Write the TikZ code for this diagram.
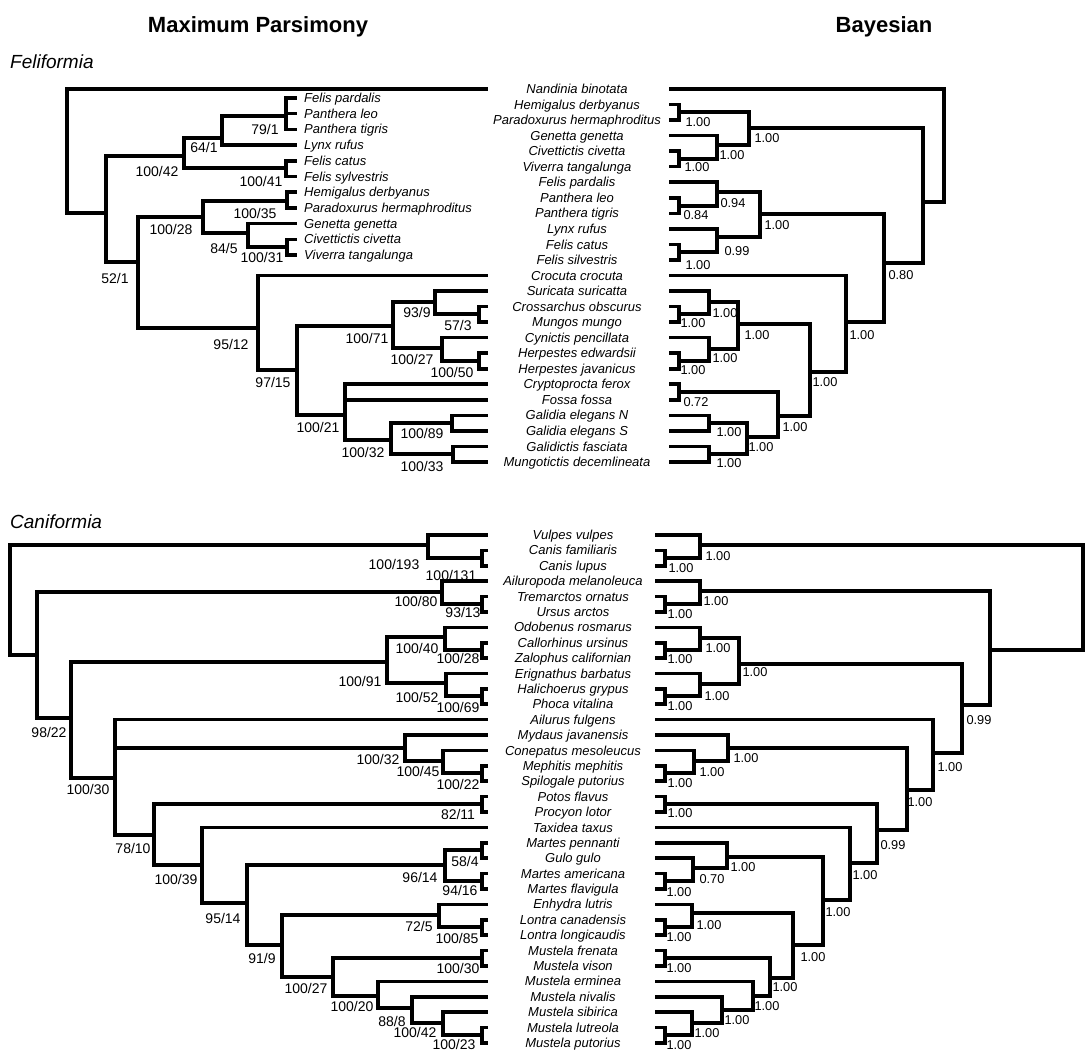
\documentclass[tikz,border=0pt]{standalone}
\usepackage{fontspec}
\setmainfont{Liberation Sans}
\tikzset{
  br/.style={line width=3.6pt, line join=miter},
  taxon/.style={font=\fontsize{13}{15}\selectfont\itshape, anchor=base, inner sep=0pt},
  taxl/.style={taxon, anchor=base west},
  mplabel/.style={font=\fontsize{14}{16}\selectfont, inner sep=0pt},
  bylabel/.style={font=\fontsize{12.8}{15}\selectfont, inner sep=0pt},
  title/.style={font=\fontsize{22}{26}\selectfont\bfseries, anchor=base, inner sep=0pt},
  group/.style={font=\fontsize{19}{22}\selectfont\itshape, anchor=base west, inner sep=0pt}
}
\newcommand\mplab[3]{\node[mplabel] (l#1) at (#2) {#3};}
\newcommand\bylab[3]{\node[bylabel] (l#1) at (#2) {#3};}
\begin{document}
\begin{tikzpicture}[x=1pt,y=-1pt]
\useasboundingbox (0,0) rectangle (1086,1051);
% titles
\node[title] (tMP) at (258,33) {Maximum Parsimony};
\node[title] (tBY) at (884,33) {Bayesian};
\node[group] (gFel) at (10,69) {Feliformia};
\node[group] (gCan) at (10,528) {Caniformia};

% ---------------- Feliformia taxa ----------------
\foreach \nm [count=\k from 0] in {Nandinia binotata, Hemigalus derbyanus, Paradoxurus hermaphroditus, Genetta genetta, Civettictis civetta, Viverra tangalunga, Felis pardalis, Panthera leo, Panthera tigris, Lynx rufus, Felis catus, Felis silvestris, Crocuta crocuta, Suricata suricatta, Crossarchus obscurus, Mungos mungo, Cynictis pencillata, Herpestes edwardsii, Herpestes javanicus, Cryptoprocta ferox, Fossa fossa, Galidia elegans N, Galidia elegans S, Galidictis fasciata, Mungotictis decemlineata}
{
  \node[taxon] (tf\k) at (577,{89+15.54*\k+4.6}) {\nm};
  \coordinate (mf\k) at (488,{89+15.54*\k});
  \coordinate (bf\k) at (669,{89+15.54*\k});
}
\foreach \nm [count=\k from 0] in {Felis pardalis, Panthera leo, Panthera tigris, Lynx rufus, Felis catus, Felis sylvestris, Hemigalus derbyanus, Paradoxurus hermaphroditus, Genetta genetta, Civettictis civetta, Viverra tangalunga}
{
  \node[taxl] (tl\k) at (304,{98+15.7*\k+4.6}) {\nm};
  \coordinate (ml\k) at (297,{98+15.7*\k});
}

% Feliformia MP nodes
\coordinate (fR) at (67,150);
\coordinate (fA) at (106,213);
\coordinate (fB) at (184,156);
\coordinate (fC) at (138,262);
\coordinate (fD) at (222,138);
\coordinate (fE) at (286,168);
\coordinate (fF) at (286,116);
\coordinate (fG) at (203,217);
\coordinate (fH) at (258,328);
\coordinate (fI) at (287,201);
\coordinate (fJ) at (248,233);
\coordinate (fK) at (287,247);
\coordinate (fL) at (297,370);
\coordinate (fM) at (393,326);
\coordinate (fN) at (345,415);
\coordinate (fO) at (435,302);
\coordinate (fP) at (442,348);
\coordinate (fQ) at (479,314);
\coordinate (fS) at (479,361);
\coordinate (fT) at (391,440);
\coordinate (fU) at (452,423);
\coordinate (fV) at (453,454);
\foreach \p/\c in {fR/mf0, fR/fA, fA/fB, fA/fC, fB/fD, fB/fE, fD/fF, fD/ml3, fF/ml0, fF/ml1, fF/ml2, fE/ml4, fE/ml5, fC/fG, fC/fH, fG/fI, fG/fJ, fI/ml6, fI/ml7, fJ/ml8, fJ/fK, fK/ml9, fK/ml10, fH/mf12, fH/fL, fL/fM, fL/fN, fM/fO, fM/fP, fO/mf13, fO/fQ, fQ/mf14, fQ/mf15, fP/mf16, fP/fS, fS/mf17, fS/mf18, fN/mf19, fN/mf20, fN/fT, fT/fU, fT/fV, fU/mf21, fU/mf22, fV/mf23, fV/mf24}
  \draw[br] (\p) |- (\c);
\mplab{fF}{265,129}{79/1}
\mplab{fD}{204,147}{64/1}
\mplab{fB}{157,171}{100/42}
\mplab{fE}{261,181}{100/41}
\mplab{fI}{255,213}{100/35}
\mplab{fG}{171,229}{100/28}
\mplab{fJ}{224,248}{84/5}
\mplab{fK}{262,257}{100/31}
\mplab{fC}{115,278}{52/1}
\mplab{fH}{231,344}{95/12}
\mplab{fL}{273,382}{97/15}
\mplab{fO}{417,312}{93/9}
\mplab{fQ}{458,325}{57/3}
\mplab{fM}{367,338}{100/71}
\mplab{fP}{412,359}{100/27}
\mplab{fS}{452,372}{100/50}
\mplab{fN}{318,427}{100/21}
\mplab{fU}{422,433}{100/89}
\mplab{fT}{363,452}{100/32}
\mplab{fV}{422,466}{100/33}

% Feliformia Bayesian nodes
\coordinate (gR) at (944,150);
\coordinate (gA) at (923,202);
\coordinate (gB) at (749,128);
\coordinate (gD) at (679,112);
\coordinate (gE) at (717,145);
\coordinate (gF) at (679,159);
\coordinate (gC) at (884,263);
\coordinate (gG) at (760,214);
\coordinate (gI) at (717,192);
\coordinate (gK) at (679,206);
\coordinate (gJ) at (717,237);
\coordinate (gL) at (679,252);
\coordinate (gH) at (846,322);
\coordinate (gM) at (810,372);
\coordinate (gN) at (738,324);
\coordinate (gP) at (709,302);
\coordinate (gS) at (679,314);
\coordinate (gQ) at (709,349);
\coordinate (gT) at (679,361);
\coordinate (gO) at (778,416);
\coordinate (gU) at (679,392);
\coordinate (gV) at (747,437);
\coordinate (gW) at (709,423);
\coordinate (gX) at (709,454);
\foreach \p/\c in {gR/bf0, gR/gA, gA/gB, gA/gC, gB/gD, gB/gE, gD/bf1, gD/bf2, gE/bf3, gE/gF, gF/bf4, gF/bf5, gC/gG, gC/gH, gG/gI, gG/gJ, gI/bf6, gI/gK, gK/bf7, gK/bf8, gJ/bf9, gJ/gL, gL/bf10, gL/bf11, gH/bf12, gH/gM, gM/gN, gM/gO, gN/gP, gN/gQ, gP/bf13, gP/gS, gS/bf14, gS/bf15, gQ/bf16, gQ/gT, gT/bf17, gT/bf18, gO/gU, gO/gV, gU/bf19, gU/bf20, gV/gW, gV/gX, gW/bf21, gW/bf22, gX/bf23, gX/bf24}
  \draw[br] (\p) |- (\c);
\bylab{gB}{767,138}{1.00}
\bylab{gD}{698,122}{1.00}
\bylab{gE}{732,155}{1.00}
\bylab{gF}{697,167}{1.00}
\bylab{gC}{901,275}{0.80}
\bylab{gG}{777,225}{1.00}
\bylab{gI}{733,203}{0.94}
\bylab{gK}{696,215}{0.84}
\bylab{gJ}{737,251}{0.99}
\bylab{gL}{698,265}{1.00}
\bylab{gH}{862,335}{1.00}
\bylab{gM}{825,382}{1.00}
\bylab{gN}{757,335}{1.00}
\bylab{gP}{725,313}{1.00}
\bylab{gS}{693,323}{1.00}
\bylab{gQ}{725,358}{1.00}
\bylab{gT}{693,370}{1.00}
\bylab{gO}{795,427}{1.00}
\bylab{gU}{696,402}{0.72}
\bylab{gV}{761,447}{1.00}
\bylab{gW}{729,432}{1.00}
\bylab{gX}{729,463}{1.00}

% ---------------- Caniformia taxa ----------------
\foreach \nm [count=\k from 0] in {Vulpes vulpes, Canis familiaris, Canis lupus, Ailuropoda melanoleuca, Tremarctos ornatus, Ursus arctos, Odobenus rosmarus, Callorhinus ursinus, Zalophus californian, Erignathus barbatus, Halichoerus grypus, Phoca vitalina, Ailurus fulgens, Mydaus javanensis, Conepatus mesoleucus, Mephitis mephitis, Spilogale putorius, Potos flavus, Procyon lotor, Taxidea taxus, Martes pennanti, Gulo gulo, Martes americana, Martes flavigula, Enhydra lutris, Lontra canadensis, Lontra longicaudis, Mustela frenata, Mustela vison, Mustela erminea, Mustela nivalis, Mustela sibirica, Mustela lutreola, Mustela putorius}
{
  \node[taxon] (tc\k) at (573,{535+15.39*\k+4.6}) {\nm};
  \coordinate (mc\k) at (488,{535+15.39*\k});
  \coordinate (bc\k) at (655,{535+15.39*\k});
}

% Caniformia MP nodes
\coordinate (cR) at (10,600);
\coordinate (cA) at (428,545);
\coordinate (cC) at (482,558);
\coordinate (cB) at (37,655);
\coordinate (cD) at (442,592);
\coordinate (cF) at (482,604);
\coordinate (cE) at (71,718);
\coordinate (cG) at (387,662);
\coordinate (cI) at (445,637);
\coordinate (cK) at (482,650);
\coordinate (cJ) at (446,683);
\coordinate (cL) at (482,696);
\coordinate (cH) at (115,778);
\coordinate (cM) at (405,748);
\coordinate (cO) at (443,761);
\coordinate (cP) at (482,773);
\coordinate (cN) at (154,835);
\coordinate (cQ) at (482,804);
\coordinate (cS) at (202,865);
\coordinate (cT) at (247,903);
\coordinate (cU) at (445,865);
\coordinate (cW) at (482,850);
\coordinate (cX) at (482,881);
\coordinate (cV) at (282,945);
\coordinate (cY) at (439,915);
\coordinate (cYb) at (482,927);
\coordinate (cZ) at (333,977);
\coordinate (cAA) at (482,958);
\coordinate (cAB) at (378,996);
\coordinate (cAC) at (412,1008);
\coordinate (cAD) at (443,1023);
\coordinate (cAE) at (482,1035);
\foreach \p/\c in {cR/cA, cR/cB, cA/mc0, cA/cC, cC/mc1, cC/mc2, cB/cD, cB/cE, cD/mc3, cD/cF, cF/mc4, cF/mc5, cE/cG, cE/cH, cG/cI, cG/cJ, cI/mc6, cI/cK, cK/mc7, cK/mc8, cJ/mc9, cJ/cL, cL/mc10, cL/mc11, cH/mc12, cH/cM, cH/cN, cM/mc13, cM/cO, cO/mc14, cO/cP, cP/mc15, cP/mc16, cN/cQ, cN/cS, cQ/mc17, cQ/mc18, cS/mc19, cS/cT, cT/cU, cT/cV, cU/cW, cU/cX, cW/mc20, cW/mc21, cX/mc22, cX/mc23, cV/cY, cV/cZ, cY/mc24, cY/cYb, cYb/mc25, cYb/mc26, cZ/cAA, cZ/cAB, cAA/mc27, cAA/mc28, cAB/mc29, cAB/cAC, cAC/mc30, cAC/cAD, cAD/mc31, cAD/cAE, cAE/mc32, cAE/mc33}
  \draw[br] (\p) |- (\c);
\mplab{cA}{394,564}{100/193}
\mplab{cC}{451,575}{100/131}
\mplab{cD}{416,601}{100/80}
\mplab{cF}{463,612}{93/13}
\mplab{cE}{49,732}{98/22}
\mplab{cG}{360,681}{100/91}
\mplab{cI}{417,648}{100/40}
\mplab{cK}{458,658}{100/28}
\mplab{cJ}{417,697}{100/52}
\mplab{cL}{458,707}{100/69}
\mplab{cH}{88,789}{100/30}
\mplab{cM}{378,759}{100/32}
\mplab{cO}{418,771}{100/45}
\mplab{cP}{458,784}{100/22}
\mplab{cN}{133,848}{78/10}
\mplab{cQ}{458,814}{82/11}
\mplab{cS}{176,879}{100/39}
\mplab{cT}{223,918}{95/14}
\mplab{cU}{420,877}{96/14}
\mplab{cW}{465,861}{58/4}
\mplab{cX}{460,890}{94/16}
\mplab{cV}{262,958}{91/9}
\mplab{cY}{419,926}{72/5}
\mplab{cYb}{457,938}{100/85}
\mplab{cZ}{306,988}{100/27}
\mplab{cAA}{458,968}{100/30}
\mplab{cAB}{352,1006}{100/20}
\mplab{cAC}{392,1021}{88/8}
\mplab{cAD}{415,1032}{100/42}
\mplab{cAE}{454,1044}{100/23}

% Caniformia Bayesian nodes
\coordinate (dR) at (1083,600);
\coordinate (dA) at (700,545);
\coordinate (dC) at (665,558);
\coordinate (dB) at (990,650);
\coordinate (dD) at (700,591);
\coordinate (dF) at (665,604);
\coordinate (dE) at (962,705);
\coordinate (dG) at (739,664);
\coordinate (dI) at (700,638);
\coordinate (dK) at (665,650);
\coordinate (dJ) at (700,684);
\coordinate (dL) at (665,696);
\coordinate (dH) at (933,753);
\coordinate (dM) at (907,790);
\coordinate (dN) at (728,748);
\coordinate (dP) at (694,761);
\coordinate (dQ) at (665,773);
\coordinate (dO) at (877,830);
\coordinate (dS) at (665,804);
\coordinate (dT) at (850,863);
\coordinate (dU) at (823,900);
\coordinate (dV) at (727,857);
\coordinate (dX) at (693,868);
\coordinate (dY) at (665,881);
\coordinate (dW) at (793,945);
\coordinate (dZ) at (692,913);
\coordinate (dAB) at (665,927);
\coordinate (dAA) at (770,978);
\coordinate (dAC) at (665,958);
\coordinate (dAD) at (753,996);
\coordinate (dAE) at (722,1010);
\coordinate (dAF) at (692,1023);
\coordinate (dAG) at (665,1035);
\foreach \p/\c in {dR/dA, dR/dB, dA/bc0, dA/dC, dC/bc1, dC/bc2, dB/dD, dB/dE, dD/bc3, dD/dF, dF/bc4, dF/bc5, dE/dG, dE/dH, dG/dI, dG/dJ, dI/bc6, dI/dK, dK/bc7, dK/bc8, dJ/bc9, dJ/dL, dL/bc10, dL/bc11, dH/bc12, dH/dM, dM/dN, dM/dO, dN/bc13, dN/dP, dP/bc14, dP/dQ, dQ/bc15, dQ/bc16, dO/dS, dO/dT, dS/bc17, dS/bc18, dT/bc19, dT/dU, dU/dV, dU/dW, dV/bc20, dV/dX, dX/bc21, dX/dY, dY/bc22, dY/bc23, dW/dZ, dW/dAA, dZ/bc24, dZ/dAB, dAB/bc25, dAB/bc26, dAA/dAC, dAA/dAD, dAC/bc27, dAC/bc28, dAD/bc29, dAD/dAE, dAE/bc30, dAE/dAF, dAF/bc31, dAF/dAG, dAG/bc32, dAG/bc33}
  \draw[br] (\p) |- (\c);
\bylab{dA}{718,556}{1.00}
\bylab{dC}{681,568}{1.00}
\bylab{dD}{716,601}{1.00}
\bylab{dF}{680,614}{1.00}
\bylab{dE}{979,720}{0.99}
\bylab{dG}{755,672}{1.00}
\bylab{dI}{718,648}{1.00}
\bylab{dK}{680,659}{1.00}
\bylab{dJ}{717,696}{1.00}
\bylab{dL}{680,706}{1.00}
\bylab{dH}{950,767}{1.00}
\bylab{dM}{920,802}{1.00}
\bylab{dN}{746,758}{1.00}
\bylab{dP}{712,772}{1.00}
\bylab{dQ}{680,783}{1.00}
\bylab{dO}{893,845}{0.99}
\bylab{dS}{680,813}{1.00}
\bylab{dT}{865,875}{1.00}
\bylab{dU}{838,912}{1.00}
\bylab{dV}{743,867}{1.00}
\bylab{dX}{712,879}{0.70}
\bylab{dY}{679,892}{1.00}
\bylab{dW}{813,957}{1.00}
\bylab{dZ}{709,925}{1.00}
\bylab{dAB}{679,937}{1.00}
\bylab{dAA}{785,987}{1.00}
\bylab{dAC}{679,968}{1.00}
\bylab{dAD}{767,1006}{1.00}
\bylab{dAE}{737,1020}{1.00}
\bylab{dAF}{707,1033}{1.00}
\bylab{dAG}{679,1045}{1.00}
\end{tikzpicture}
\end{document}
